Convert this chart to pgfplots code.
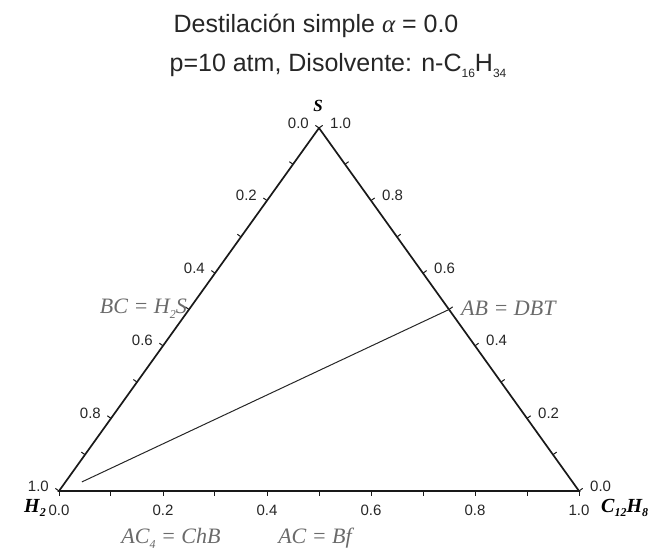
\documentclass[border=0pt]{standalone}
\usepackage{pgfplots}
\pgfplotsset{compat=1.18}
\usepackage{fontspec}
\setmainfont{Liberation Sans}
\newfontfamily\serif{Liberation Serif}
\definecolor{annot}{HTML}{6A6A6A}
\newcommand{\sub}[2][4pt]{\raisebox{-#1}{\fontsize{12}{12}\selectfont #2}}
\begin{document}
\begin{tikzpicture}[x=1pt,y=1pt]
\useasboundingbox (0,0) rectangle (660,554);
\begin{axis}[at={(59pt,63pt)}, anchor=south west, scale only axis,
  width=520pt, height=363pt, xmin=0, xmax=1, ymin=0, ymax=1,
  axis lines=none, clip=false]
\addplot[black!90, line width=1.7pt, line join=miter, line cap=round] coordinates {(0,0) (1,0) (0.5,1) (0,0) (1,0)};
\addplot[black!85, line width=1.0pt] coordinates {(0.044,0.025) (0.75,0.5)};
\end{axis}
% ticks
\foreach \i in {0,...,10} {
  \pgfmathsetmacro\t{\i/10}
  \draw[black!90, line width=1pt] (319-260*\t, 426-363*\t) -- ++(-4.5*0.813, 4.5*0.582);
  \draw[black!90, line width=1pt] (319+260*\t, 426-363*\t) -- ++(4.5*0.813, 4.5*0.582);
  \draw[black!90, line width=1pt] (59+520*\t, 63) -- ++(0,-4.5);
}
% tick labels
\begin{scope}[every node/.style={font=\fontsize{15}{17}\selectfont, text=black!85, inner sep=0pt}]
\foreach \t/\lab in {0/0.0,0.2/0.2,0.4/0.4,0.6/0.6,0.8/0.8,1/1.0} {
  \node[anchor=east] at (319-260*\t-10, 426-363*\t+5) {\lab};
  \node[anchor=center] at (59+520*\t, 44) {\lab};
}
\foreach \t/\lab in {0/1.0,0.2/0.8,0.4/0.6,0.6/0.4,0.8/0.2,1/0.0} {
  \node[anchor=west] at (319+260*\t+11, 426-363*\t+5) {\lab};
}
\end{scope}
% title
\node[anchor=base, font=\fontsize{25}{30}\selectfont, text=black!85, inner sep=0pt] at (316,521) {Destilación simple {\serif\itshape α} = 0.0};
\node[anchor=base, font=\fontsize{25}{30}\selectfont, text=black!85, inner sep=0pt] at (338,482) {p=10 atm, Disolvente: n-C\sub[6pt]{16}H\sub[6pt]{34}};
% vertex labels
\node[anchor=east, inner sep=0pt, font=\serif\bfseries\itshape\fontsize{20}{22}\selectfont] at (46,46) {H\sub{2}};
\node[anchor=west, inner sep=0pt, font=\serif\bfseries\itshape\fontsize{20}{22}\selectfont] at (601,46) {C\sub{12}H\sub{8}};
\node[anchor=center, inner sep=0pt, font=\serif\bfseries\itshape\fontsize{17}{19}\selectfont] at (318,448) {S};
% annotations
\begin{scope}[every node/.style={inner sep=0pt, text=annot, font=\serif\itshape\fontsize{22}{24}\selectfont}]
\node[anchor=east] at (187,245) {BC = H\sub[5pt]{2}S};
\node[anchor=west] at (461,246) {AB = DBT};
\node[anchor=center] at (171,16) {AC\sub[5pt]{4} = ChB};
\node[anchor=center] at (315,16) {AC = Bf};
\end{scope}
\end{tikzpicture}
\end{document}
